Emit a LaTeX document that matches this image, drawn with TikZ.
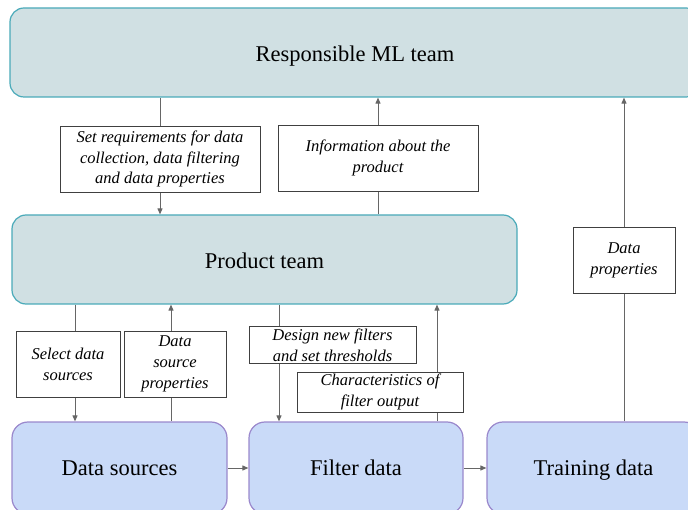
\documentclass[tikz,border=0pt]{standalone}
\usepackage{fontspec}
\setmainfont{Liberation Serif}
\usetikzlibrary{arrows.meta,backgrounds}
\definecolor{teamFill}{HTML}{D0E0E3}
\definecolor{teamLine}{HTML}{4AAAB9}
\definecolor{dataFill}{HTML}{C9DAF8}
\definecolor{dataLine}{HTML}{9A88CC}
\definecolor{linkGrey}{HTML}{666666}
\definecolor{noteLine}{HTML}{404040}
\pgfdeclarelayer{background}
\pgfsetlayers{background,main}
\tikzset{
  teamBox/.style={rectangle, rounded corners=14pt, draw=teamLine, fill=teamFill,
    line width=1.2pt, text height=20pt, text depth=1pt, font=\fontsize{22.5}{26}\selectfont},
  dataBox/.style={rectangle, rounded corners=16pt, draw=dataLine, fill=dataFill,
    line width=1.2pt, text height=18pt, text depth=3pt, font=\fontsize{22.5}{26}\selectfont},
  noteBox/.style={rectangle, draw=noteLine, fill=white, line width=0.8pt,
    align=center, inner sep=2pt, font=\fontsize{16.5}{20.8}\selectfont\itshape},
  link/.style={-{Triangle[length=6pt, width=5pt]}, line width=1pt, color=linkGrey},
  plainLink/.style={line width=1pt, color=linkGrey},
}

\begin{document}
\begin{tikzpicture}[x=1pt,y=-1pt]
  \useasboundingbox (0,0) rectangle (688,510);
  \clip (0,0) rectangle (688,510);

  \node[teamBox, minimum width=690pt, minimum height=89pt] (rml) at (355,52.5)
    {Responsible ML team};
  \node[teamBox, minimum width=505pt, minimum height=89pt] (product) at (264.5,259.5)
    {Product team};

  \node[dataBox, minimum width=215pt, minimum height=92pt] (sources) at (119.5,468)
    {Data sources};
  \node[dataBox, minimum width=214pt, minimum height=92pt] (filter) at (356,468)
    {Filter data};
  \node[dataBox, minimum width=213pt, minimum height=92pt] (training) at (593.5,468)
    {Training data};

  \node[noteBox, minimum width=200pt, minimum height=66pt] (req) at (160,159)
    {Set requirements for data\\collection, data filtering\\and data properties};
  \node[noteBox, minimum width=200pt, minimum height=66pt] (info) at (378,158)
    {Information about the\\product};
  \node[noteBox, minimum width=102pt, minimum height=66pt] (dprop) at (624,260)
    {Data\\properties};
  \node[noteBox, minimum width=104pt, minimum height=66pt] (sel) at (68,364)
    {Select data\\sources};
  \node[noteBox, minimum width=102pt, minimum height=66pt] (srcprop) at (175,364)
    {Data\\source\\properties};
  \node[noteBox, minimum width=167pt, minimum height=36pt] (design) at (332.5,345)
    {Design new filters\\and set thresholds};
  \node[noteBox, minimum width=166pt, minimum height=38pt] (charac) at (380,392)
    {Characteristics of\\filter output};

  \coordinate (selX) at (75,0);
  \coordinate (srcX) at (171,0);
  \coordinate (designX) at (279,0);
  \coordinate (characX) at (437,0);

  \begin{pgfonlayer}{background}
    \draw[plainLink] (rml.south -| req.north) -- (req.north);
    \draw[link] (req.south) -- (req.south |- product.north);
    \draw[plainLink] (info.south |- product.north) -- (info.south);
    \draw[link] (info.north) -- (info.north |- rml.south);
    \draw[plainLink] (training.north -| dprop.south) -- (dprop.south);
    \draw[link] (dprop.north) -- (dprop.north |- rml.south);

    \draw[link] (product.south -| selX) -- (sources.north -| selX);
    \draw[link] (sources.north -| srcX) -- (product.south -| srcX);
    \draw[link] (product.south -| designX) -- (filter.north -| designX);
    \draw[link] (filter.north -| characX) -- (product.south -| characX);

    \draw[link] (sources.east) -- (filter.west);
    \draw[link] (filter.east) -- (training.west);
  \end{pgfonlayer}
\end{tikzpicture}
\end{document}
